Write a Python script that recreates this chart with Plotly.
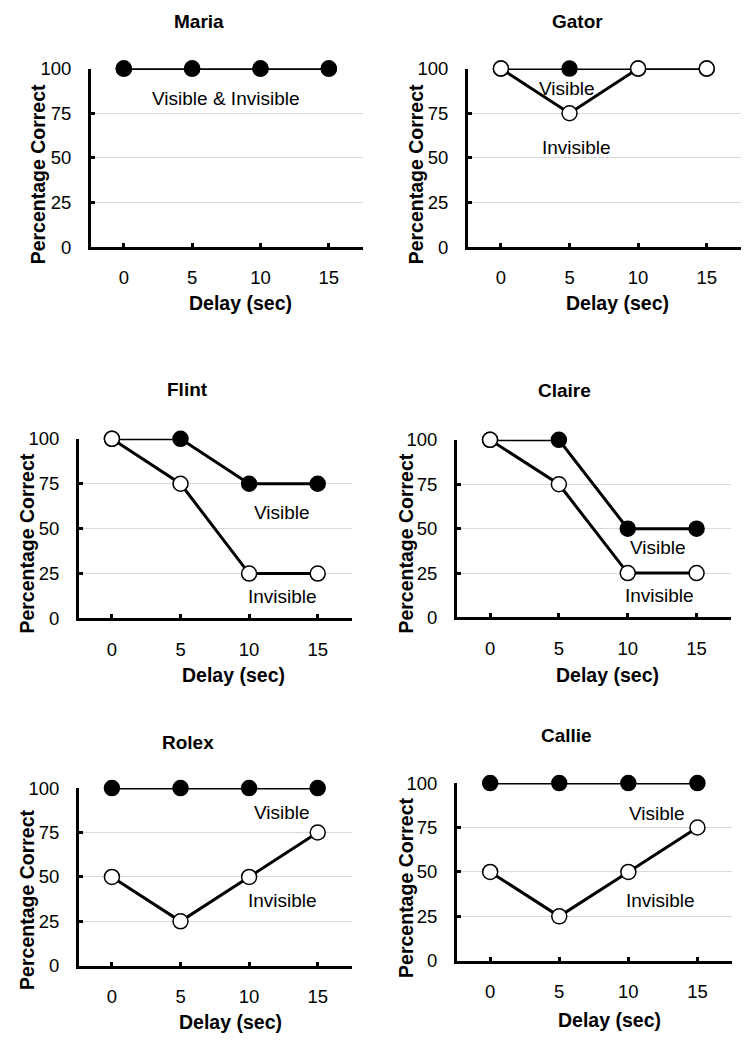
import plotly.graph_objects as go

W, H = 749, 1050

delays = [0, 5, 10, 15]
y_ticks = [0, 25, 50, 75, 100]

names = ["Maria", "Gator", "Flint", "Claire", "Rolex", "Callie"]
visible = {
    "Maria": [100, 100, 100, 100],
    "Gator": [100, 100, 100, 100],
    "Flint": [100, 100, 75, 75],
    "Claire": [100, 100, 50, 50],
    "Rolex": [100, 100, 100, 100],
    "Callie": [100, 100, 100, 100],
}
invisible = {
    "Maria": [100, 100, 100, 100],
    "Gator": [100, 75, 100, 100],
    "Flint": [100, 75, 25, 25],
    "Claire": [100, 75, 25, 25],
    "Rolex": [50, 25, 50, 75],
    "Callie": [50, 25, 50, 75],
}
# text labels: (text, x, y) in data coords
labels = {
    "Maria": [("Visible & Invisible", 7.5, 83)],
    "Gator": [("Visible", 4.8, 89), ("Invisible", 5.5, 56)],
    "Flint": [("Visible", 12.4, 59), ("Invisible", 12.4, 12)],
    "Claire": [("Visible", 12.2, 39.5), ("Invisible", 12.3, 12.5)],
    "Rolex": [("Visible", 12.4, 86), ("Invisible", 12.4, 36.5)],
    "Callie": [("Visible", 12.1, 83), ("Invisible", 12.3, 34)],
}

# layout in pixels: x_left, x_right, y_top(100), y_bottom(0), title(x,y), xlabel(x,y), ylabel(x,y)
panels = {
    "Maria": dict(xl=91, xr=363, yt=67, yb=246, t=(199, 20), xt=(240, 302), yl=(38, 173)),
    "Gator": dict(xl=468, xr=741, yt=67, yb=246, t=(577, 20), xt=(617, 302), yl=(416, 173)),
    "Flint": dict(xl=79, xr=352, yt=438, yb=618, t=(187, 389), xt=(233, 675), yl=(27, 543)),
    "Claire": dict(xl=457, xr=731, yt=439, yb=617, t=(564, 390), xt=(607, 675), yl=(406, 543)),
    "Rolex": dict(xl=79, xr=352, yt=788, yb=966, t=(188, 742), xt=(230, 1022), yl=(27, 900)),
    "Callie": dict(xl=457, xr=732, yt=783, yb=961, t=(566, 735), xt=(609, 1020), yl=(406, 888)),
}

FONT = "Liberation Sans, Arial, sans-serif"
fig = go.Figure()
annotations = []

def px(xv):
    return xv / W

def py(yv):
    # small vertical correction observed between intended and rendered positions
    yv = (yv - 9.3) / 0.982
    return 1 - yv / H

for i, name in enumerate(names):
    k = i + 1
    xa = "x" if k == 1 else f"x{k}"
    ya = "y" if k == 1 else f"y{k}"
    p = panels[name]

    def add_series(vals, fill):
        fig.add_trace(go.Scatter(
            x=delays, y=vals, xaxis=xa, yaxis=ya, mode="lines+markers",
            line=dict(color="black", width=3),
            marker=dict(symbol="circle", size=15, color=fill,
                        line=dict(color="black", width=1.5)),
            cliponaxis=False, showlegend=False, hoverinfo="skip"))

    if name == "Maria":
        add_series(invisible[name], "white")
        add_series(visible[name], "black")
    else:
        add_series(visible[name], "black")
        add_series(invisible[name], "white")

    axis_common = dict(showline=True, linecolor="black", linewidth=3,
                       ticks="inside", ticklen=4, tickwidth=3, tickcolor="black",
                       tickfont=dict(family=FONT, size=18.5, color="black"),
                       zeroline=False)
    fig.layout[f"xaxis{'' if k == 1 else k}"] = dict(
        axis_common, domain=[px(p["xl"]), px(p["xr"])], range=[-2.4, 17.5],
        tickvals=delays, showgrid=False, anchor=ya, ticklabelstandoff=12)
    fig.layout[f"yaxis{'' if k == 1 else k}"] = dict(
        axis_common, domain=[py(p["yb"]), py(p["yt"])], range=[0, 100],
        tickvals=y_ticks, showgrid=True, gridcolor="#d9d9d9", gridwidth=1,
        anchor=xa, ticklabelstandoff=13)

    annotations.append(dict(text=f"<b>{name}</b>", x=px(p["t"][0]), y=py(p["t"][1]),
                            xref="paper", yref="paper", showarrow=False,
                            font=dict(family=FONT, size=19, color="black"),
                            xanchor="center", yanchor="middle"))
    annotations.append(dict(text="<b>Delay (sec)</b>", x=px(p["xt"][0]), y=py(p["xt"][1]),
                            xref="paper", yref="paper", showarrow=False,
                            font=dict(family=FONT, size=19.5, color="black"),
                            xanchor="center", yanchor="middle"))
    annotations.append(dict(text="<b>Percentage Correct</b>", x=px(p["yl"][0]), y=py(p["yl"][1]),
                            xref="paper", yref="paper", showarrow=False, textangle=-90,
                            font=dict(family=FONT, size=19.5, color="black"),
                            xanchor="center", yanchor="middle"))
    for txt, tx, ty in labels[name]:
        annotations.append(dict(text=txt, x=tx, y=ty, xref=xa, yref=ya, showarrow=False,
                                font=dict(family=FONT, size=19, color="black"),
                                xanchor="center", yanchor="middle"))

fig.update_layout(width=W, height=H, margin=dict(l=0, r=0, t=0, b=0),
                  paper_bgcolor="white", plot_bgcolor="white",
                  annotations=annotations, showlegend=False)

post = (
    "document.documentElement.style.margin='0';"
    "document.documentElement.style.padding='0';"
    "document.documentElement.style.overflow='hidden';"
    "document.body.style.margin='0';"
    "document.body.style.padding='0';"
    "document.body.style.overflow='hidden';"
    "var d=document.getElementById('{plot_id}');"
    "d.style.position='fixed';d.style.top='0px';d.style.left='0px';"
)

fig.write_html("out.html", config={"displayModeBar": False}, post_script=post)
